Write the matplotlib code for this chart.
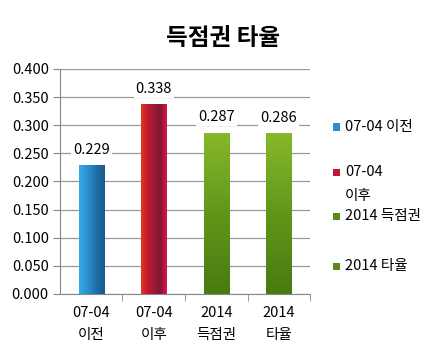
import numpy as np
import matplotlib
matplotlib.use("Agg")
import matplotlib.pyplot as plt
from matplotlib.colors import LinearSegmentedColormap
from matplotlib.patches import Rectangle

plt.rcParams["font.family"] = ["Noto Sans CJK KR", "DejaVu Sans"]

categories = ["07-04\n이전", "07-04\n이후", "2014\n득점권", "2014\n타율"]
legend_labels = ["07-04 이전", "07-04\n이후", "2014 득점권", "2014 타율"]
values = [0.229, 0.338, 0.287, 0.286]
value_labels = ["0.229", "0.338", "0.287", "0.286"]
y_ticks = [0.0, 0.05, 0.1, 0.15, 0.2, 0.25, 0.3, 0.35, 0.4]

# colour ramps for the textured bars (horizontal, vertical)
ramps = [
    ("h", ["#3aa8e8", "#2a8fd0", "#1f6fa8", "#1a5a88"]),
    ("h", ["#e0381c", "#c01a30", "#a0183a", "#7a1a30", "#e8104a"]),
    ("v", ["#4a7a10", "#62961a", "#86b82a"]),
    ("v", ["#4a7a10", "#62961a", "#86b82a"]),
]
legend_colors = ["#2a8fd0", "#c0183a", "#5a8a14", "#5a8a14"]

fig = plt.figure(figsize=(4.43, 3.61), dpi=100)
ax = fig.add_axes([0.1354, 0.1856, 0.5644, 0.6233])

x = np.arange(len(values))
bars = ax.bar(x, values, width=0.4, color="none", zorder=3)
for bar, (kind, cols) in zip(bars, ramps):
    cmap = LinearSegmentedColormap.from_list("r", cols)
    g = np.linspace(0, 1, 64)
    img = g[None, :] if kind == "h" else g[:, None]
    x0, w, h = bar.get_x(), bar.get_width(), bar.get_height()
    im = ax.imshow(img, cmap=cmap, aspect="auto", origin="lower",
                   extent=(x0, x0 + w, 0, h), zorder=3)
    im.set_clip_path(bar)

for xi, v, lab in zip(x, values, value_labels):
    ax.annotate(lab, (xi, v), xytext=(0, 6), textcoords="offset points",
                ha="center", va="bottom", fontsize=10.5, zorder=4,
                bbox=dict(facecolor="white", edgecolor="none", pad=1.5))

ax.set_xlim(-0.5, 3.5)
ax.set_ylim(0, 0.4)
ax.set_yticks(y_ticks)
ax.set_yticklabels([f"{t:.3f}" for t in y_ticks], fontsize=10.5)
ax.set_xticks(x)
ax.set_xticklabels(categories, fontsize=10.5, linespacing=1.7)
ax.set_xticks(np.arange(0.5, 4, 1), minor=True)
ax.tick_params(axis="x", which="major", length=0, pad=9)
ax.tick_params(axis="x", which="minor", length=5, color="#888888")
ax.tick_params(axis="y", length=5, color="#888888", pad=3)
ax.grid(axis="y", color="#999999", linewidth=0.9, zorder=0)
ax.set_axisbelow(True)
for s in ["top", "right"]:
    ax.spines[s].set_visible(False)
for s in ["left", "bottom"]:
    ax.spines[s].set_color("#888888")

fig.text(0.503, 0.895, "득점권 타율", ha="center", va="center",
         fontsize=17, fontweight="bold")

# legend on the right
leg_y = [127, 172, 216, 266]
for lab, col, yy in zip(legend_labels, legend_colors, leg_y):
    fy = 1 - yy / 361
    fig.patches.append(Rectangle((333 / 443, fy - 3.5 / 361), 7 / 443, 7 / 361,
                                 transform=fig.transFigure, facecolor=col,
                                 edgecolor="none"))
    for i, line in enumerate(lab.split("\n")):
        fig.text(345 / 443, fy - i * 24 / 361, line, ha="left", va="center",
                 fontsize=10.5)

fig.savefig("out.png", dpi=100)
